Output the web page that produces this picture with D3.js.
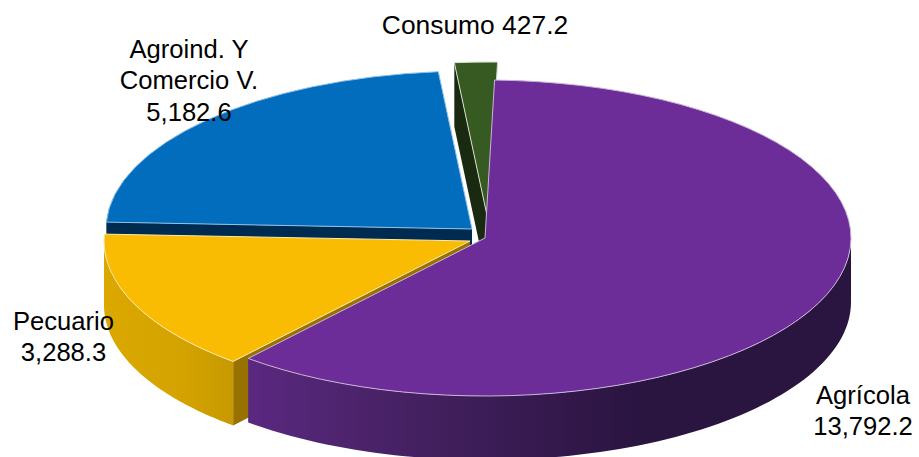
<!DOCTYPE html>
<html>
<head>
<meta charset="utf-8">
<script src="https://cdn.jsdelivr.net/npm/d3@7"></script>
<style>
html,body{margin:0;padding:0;background:#fff;overflow:hidden}
svg{display:block}
text{font-family:"Liberation Sans",Arial,sans-serif;font-size:25.6px;fill:#000}
</style>
</head>
<body>
<svg id="c" width="919" height="457"></svg>
<script>
const categories = ["Agrícola", "Pecuario", "Agroind. Y Comercio V.", "Consumo"];
const values = [13792.2, 3288.3, 5182.6, 427.2];
const topColors = ["#6c2d98", "#f9bc02", "#026cbd", "#375a22"];
const cutColors = ["#3a1a55", "#987200", "#002b50", "#1a2a10"];
const rimStrokes = ["#c9b4d8", "#fbe9b0", "#8fc1e8", "#d5e0cd"];
const labelLines = [["Agrícola"], ["Pecuario"], ["Agroind. Y", "Comercio V."], ["Consumo"]];

const W = 919, H = 457;
const rx = 366, ry = 158, depth = 64;
const startDeg = 1.5;
// exploded centre of every slice
const centres = [[485, 238], [470, 241], [472, 229], [488, 220]];
// label anchors: centre x, first baseline
const labelPos = [[863, 404], [63.5, 330], [189, 58], [475, 34]];
const lineGap = 31.3;

const svg = d3.select("#c");
const defs = svg.append("defs");

function grad(id, x1, x2, stops) {
  const g = defs.append("linearGradient").attr("id", id)
    .attr("gradientUnits", "userSpaceOnUse")
    .attr("x1", x1).attr("x2", x2).attr("y1", 0).attr("y2", 0);
  stops.forEach(s => g.append("stop").attr("offset", s[0]).attr("stop-color", s[1]));
}
grad("wall0", 248, 640, [[0, "#5a2880"], [0.45, "#43205f"], [1, "#2a1440"]]);
grad("wall1", 105, 232, [[0, "#dba800"], [0.6, "#d4a300"], [1, "#c89a00"]]);
grad("wall2", 100, 110, [[0, "#8d99a6"], [1, "#8d99a6"]]);
grad("wall3", 450, 500, [[0, "#1a2a10"], [1, "#1a2a10"]]);

const pie = d3.pie().sort(null)
  .startAngle(startDeg * Math.PI / 180)
  .endAngle((startDeg + 360) * Math.PI / 180);
const arcs = pie(values);
const arc = d3.arc().innerRadius(0).outerRadius(rx);
const yScale = d3.scaleLinear().domain([0, rx]).range([0, ry]);

const rimPt = (i, a, dy) => [
  centres[i][0] + rx * Math.sin(a),
  centres[i][1] - yScale(rx * Math.cos(a)) + (dy || 0)
];
const lineGen = d3.line();

function visibleSpan(a0, a1) {
  // the front of the disc faces the viewer between 90 and 270 degrees
  const lo = Math.max(a0, Math.PI / 2), hi = Math.min(a1, 1.5 * Math.PI);
  return hi > lo ? [lo, hi] : null;
}

function wallPath(i, span) {
  const n = 80;
  const as = d3.range(n + 1).map(k => span[0] + (span[1] - span[0]) * k / n);
  return lineGen(as.map(a => rimPt(i, a)).concat(as.slice().reverse().map(a => rimPt(i, a, depth)))) + "Z";
}

function cutPath(i, a) {
  const c = centres[i];
  const r = rimPt(i, a);
  return lineGen([c, r, [r[0], r[1] + depth], [c[0], c[1] + depth]]) + "Z";
}

function drawSlice(i) {
  const d = arcs[i];
  const g = svg.append("g").attr("class", "slice");
  // cut face on the slice's leading edge, the one that looks towards the viewer
  if (i !== 0) {
    g.append("path").attr("d", cutPath(i, d.startAngle)).attr("fill", cutColors[i]);
  }
  const span = visibleSpan(d.startAngle, d.endAngle);
  if (span) {
    g.append("path").attr("d", wallPath(i, span)).attr("fill", `url(#wall${i})`);
  }
  g.append("path")
    .attr("transform", `translate(${centres[i][0]},${centres[i][1]}) scale(1,${ry / rx})`)
    .attr("d", arc(d))
    .attr("fill", topColors[i])
    .attr("stroke", rimStrokes[i])
    .attr("stroke-width", 1)
    .style("vector-effect", "non-scaling-stroke");
}

// back to front
[3, 2, 1, 0].forEach(drawSlice);

// labels
const fmt = d3.format(",.1f");
categories.forEach((cat, i) => {
  const t = svg.append("text").attr("text-anchor", "middle");
  if (i === 3) {
    t.style("font-size", "26.4px").append("tspan").attr("x", labelPos[i][0]).attr("y", labelPos[i][1])
      .text(labelLines[i][0] + " " + fmt(values[i]));
  } else {
    labelLines[i].concat([fmt(values[i])]).forEach((s, k) => {
      t.append("tspan").attr("x", labelPos[i][0]).attr("y", labelPos[i][1] + k * lineGap).text(s);
    });
  }
});
</script>
</body>
</html>
